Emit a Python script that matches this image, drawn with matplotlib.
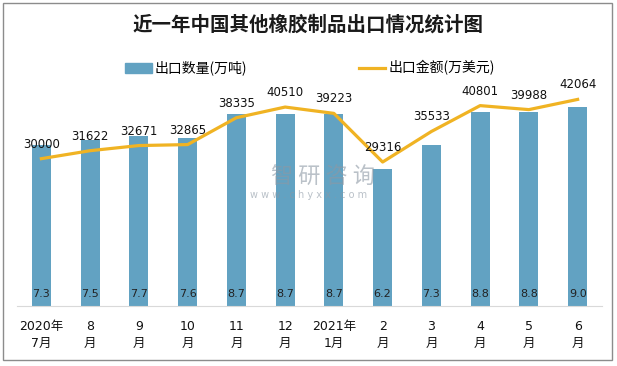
import matplotlib.pyplot as plt
from matplotlib.patches import Rectangle
from matplotlib.lines import Line2D

plt.rcParams['font.family'] = ['DejaVu Sans', 'Noto Sans CJK SC']

months = ['2020年\n7月', '8\n月', '9\n月', '10\n月', '11\n月', '12\n月',
          '2021年\n1月', '2\n月', '3\n月', '4\n月', '5\n月', '6\n月']
qty = [7.3, 7.5, 7.7, 7.6, 8.7, 8.7, 8.7, 6.2, 7.3, 8.8, 8.8, 9.0]
amount = [30000, 31622, 32671, 32865, 38335, 40510, 39223, 29316, 35533, 40801, 39988, 42064]

bar_color = '#62A2C2'
line_color = '#F0B323'

fig = plt.figure(figsize=(6.17, 3.66), dpi=100)
ax = fig.add_axes([17 / 617, 60 / 366, 585 / 617, 221 / 366])
x = list(range(len(months)))
ax.bar(x, qty, width=0.39, color=bar_color, zorder=2)
ax.set_ylim(0, 10)
ax.set_xlim(-0.5, len(months) - 0.5)
for i, v in enumerate(qty):
    ax.annotate('%.1f' % v, (i, 0), xytext=(0, 12), textcoords='offset pixels',
                ha='center', va='center', fontsize=8, color='#222222', zorder=5)

ax2 = ax.twinx()
ax2.plot(x, amount, color=line_color, linewidth=2.3, zorder=3)
ax2.set_ylim(0, 45000)
for i, v in enumerate(amount):
    ax2.annotate(str(v), (i, v), xytext=(0, 8), textcoords='offset pixels',
                 ha='center', va='bottom', fontsize=8.5, color='#111111')

for a in (ax, ax2):
    for s in a.spines.values():
        s.set_visible(False)
    a.set_yticks([])
ax.spines['bottom'].set_visible(True)
ax.spines['bottom'].set_color('#D9D9D9')
ax.set_xticks(x)
ax.set_xticklabels(months, fontsize=9, linespacing=1.45, color='#111111')
ax.tick_params(axis='x', length=0, pad=10)

fig.text(308 / 617, 1 - 25 / 366, '近一年中国其他橡胶制品出口情况统计图',
         ha='center', va='center', fontsize=14, fontweight='bold',
         family=['Noto Sans CJK SC'], color='#1a1a1a')

handles = [Rectangle((0, 0), 1, 1, color=bar_color),
           Line2D([0], [0], color=line_color, linewidth=2.3)]
fig.legend(handles, ['出口数量(万吨)', '出口金额(万美元)'], loc='center',
           bbox_to_anchor=(310 / 617, 1 - 68 / 366), ncol=2, frameon=False,
           handlelength=1.9, handletextpad=0.25, columnspacing=8.0,
           prop={'family': ['Noto Sans CJK SC'], 'size': 10})

# watermark
fig.text(323 / 617, 1 - 177 / 366, '智 研 咨 询', ha='center', va='center',
         fontsize=16, color='#8C98A4', alpha=0.6, family=['Noto Sans CJK SC'], zorder=10)
fig.text(309 / 617, 1 - 195 / 366, 'w w w . c h y x x . c o m', ha='center', va='center',
         fontsize=7, color='#8C98A4', alpha=0.6, zorder=10)

fig.patches.append(Rectangle((3 / 617, 6 / 366), 609 / 617, 357 / 366, fill=False,
                             edgecolor='#8C8C8C', linewidth=1, transform=fig.transFigure))

fig.savefig('out.png', dpi=100)
